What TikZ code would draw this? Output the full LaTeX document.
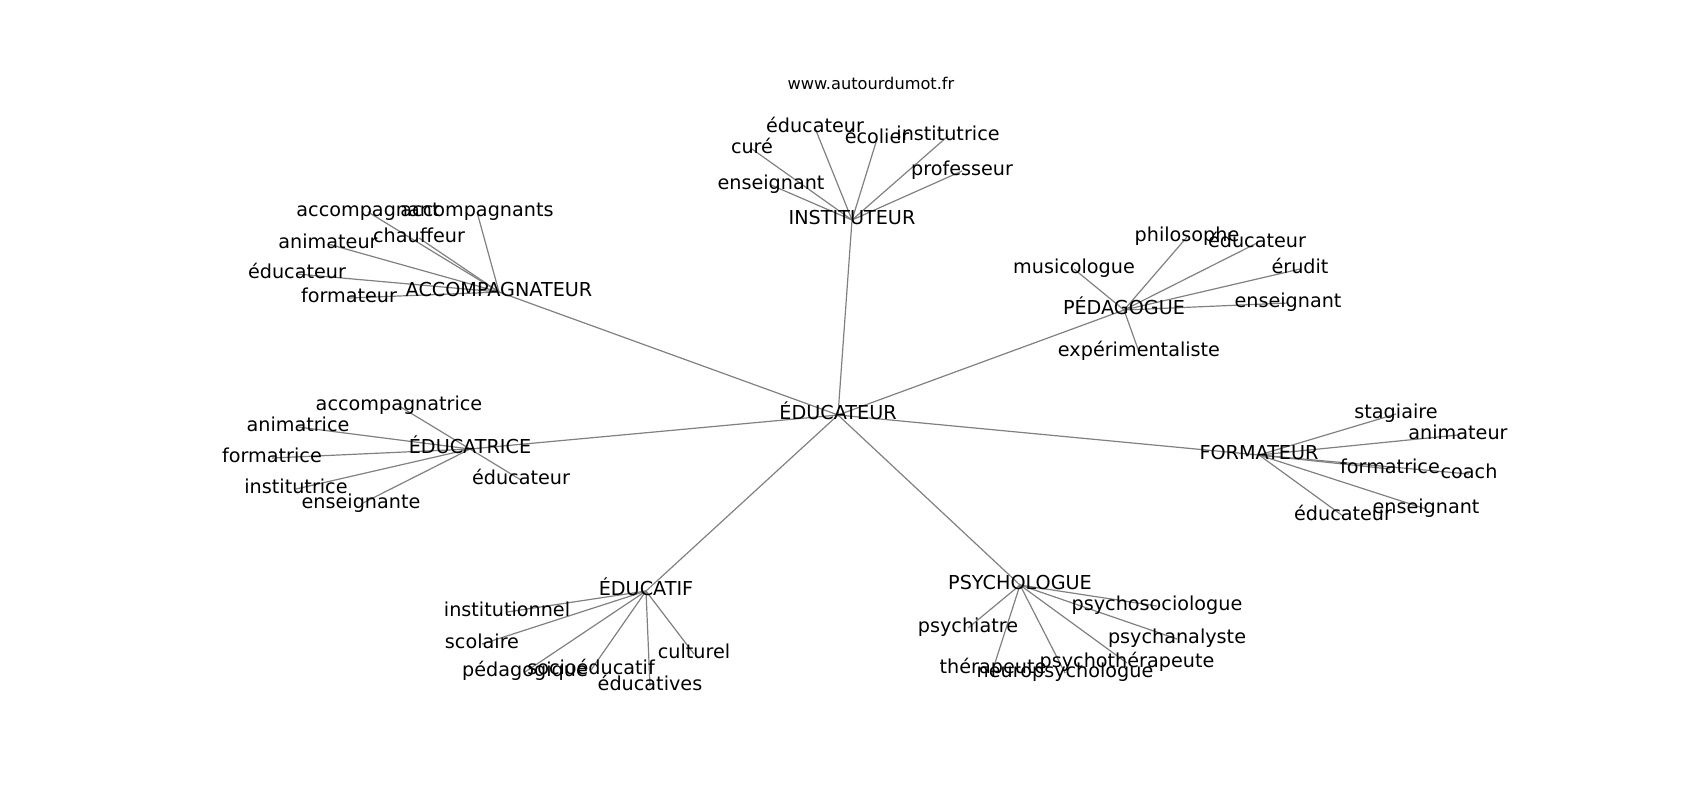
\documentclass[tikz,border=0pt]{standalone}
\usepackage{fontspec}
\setmainfont{DejaVu Sans}
\pgfdeclarelayer{bg}
\pgfsetlayers{bg,main}
\tikzset{
  lbl/.style={inner sep=0pt, anchor=center, font=\fontsize{9.6pt}{11pt}\selectfont, text height=7.26pt, text depth=2.29pt},
  ttl/.style={inner sep=0pt, anchor=center, font=\fontsize{8.1pt}{10pt}\selectfont},
  edge/.style={draw=black!50, line width=0.6pt}
}
\begin{document}
\begin{tikzpicture}[x=0.5pt,y=-0.5pt]
\useasboundingbox (0,0) rectangle (1700,800);
\node[ttl] (title) at (871,83) {www.autourdumot.fr};
% hub
\node[lbl] (hub) at (838,415) {ÉDUCATEUR};
% INSTITUTEUR
\node[lbl] (inst) at (852,220) {INSTITUTEUR};
\node[lbl] (i1) at (771,185) {enseignant};
\node[lbl] (i2) at (752,149) {curé};
\node[lbl] (i3) at (815,128) {éducateur};
\node[lbl] (i4) at (877,139) {écolier};
\node[lbl] (i5) at (948,136) {institutrice};
\node[lbl] (i6) at (962,171) {professeur};
% ACCOMPAGNATEUR
\node[lbl] (acc) at (499,292) {ACCOMPAGNATEUR};
\node[lbl] (a1) at (368,212) {accompagnant};
\node[lbl] (a2) at (477,212) {accompagnants};
\node[lbl] (a3) at (419,238) {chauffeur};
\node[lbl] (a4) at (328,244) {animateur};
\node[lbl] (a5) at (297,274) {éducateur};
\node[lbl] (a6) at (349,298) {formateur};
% PEDAGOGUE
\node[lbl] (ped) at (1124,310) {PÉDAGOGUE};
\node[lbl] (p1) at (1074,269) {musicologue};
\node[lbl] (p2) at (1187,237) {philosophe};
\node[lbl] (p3) at (1257,243) {éducateur};
\node[lbl] (p4) at (1300,269) {érudit};
\node[lbl] (p5) at (1288,303) {enseignant};
\node[lbl] (p6) at (1139,352) {expérimentaliste};
% FORMATEUR
\node[lbl] (form) at (1259,455) {FORMATEUR};
\node[lbl] (f1) at (1396,414) {stagiaire};
\node[lbl] (f2) at (1458,435) {animateur};
\node[lbl] (f3) at (1390,469) {formatrice};
\node[lbl] (f4) at (1469,474) {coach};
\node[lbl] (f5) at (1426,509) {enseignant};
\node[lbl] (f6) at (1343,516) {éducateur};
% EDUCATRICE
\node[lbl] (edtr) at (470,449) {ÉDUCATRICE};
\node[lbl] (e1) at (399,406) {accompagnatrice};
\node[lbl] (e2) at (298,427) {animatrice};
\node[lbl] (e3) at (272,458) {formatrice};
\node[lbl] (e4) at (296,489) {institutrice};
\node[lbl] (e5) at (361,504) {enseignante};
\node[lbl] (e6) at (521,480) {éducateur};
% EDUCATIF
\node[lbl] (edf) at (646,591) {ÉDUCATIF};
\node[lbl] (d1) at (507,612) {institutionnel};
\node[lbl] (d2) at (482,644) {scolaire};
\node[lbl] (d3) at (525,672) {pédagogique};
\node[lbl] (d4) at (591,670) {socioéducatif};
\node[lbl] (d5) at (650,686) {éducatives};
\node[lbl] (d6) at (694,654) {culturel};
% PSYCHOLOGUE
\node[lbl] (psy) at (1020,585) {PSYCHOLOGUE};
\node[lbl] (s1) at (1157,606) {psychosociologue};
\node[lbl] (s2) at (968,628) {psychiatre};
\node[lbl] (s3) at (1177,639) {psychanalyste};
\node[lbl] (s4) at (1127,663) {psychothérapeute};
\node[lbl] (s5) at (993,669) {thérapeute};
\node[lbl] (s6) at (1065,673) {neuropsychologue};
\begin{pgfonlayer}{bg}
\foreach \c in {inst,acc,ped,form,edtr,edf,psy}
  \draw[edge] (hub.center) -- (\c.center);
\foreach \l in {i1,i2,i3,i4,i5,i6} \draw[edge] (inst.center) -- (\l.center);
\foreach \l in {a1,a2,a3,a4,a5,a6} \draw[edge] (acc.center) -- (\l.center);
\foreach \l in {p1,p2,p3,p4,p5,p6} \draw[edge] (ped.center) -- (\l.center);
\foreach \l in {f1,f2,f3,f4,f5,f6} \draw[edge] (form.center) -- (\l.center);
\foreach \l in {e1,e2,e3,e4,e5,e6} \draw[edge] (edtr.center) -- (\l.center);
\foreach \l in {d1,d2,d3,d4,d5,d6} \draw[edge] (edf.center) -- (\l.center);
\foreach \l in {s1,s2,s3,s4,s5,s6} \draw[edge] (psy.center) -- (\l.center);
\end{pgfonlayer}
\end{tikzpicture}
\end{document}
